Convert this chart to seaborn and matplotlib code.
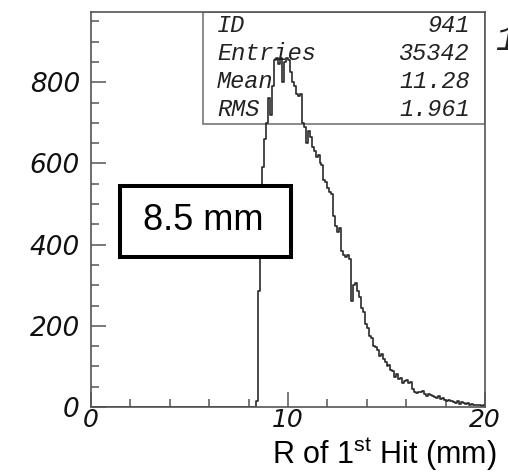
import numpy as np
import pandas as pd
import matplotlib
matplotlib.use("Agg")
import matplotlib.pyplot as plt
from matplotlib.patches import Rectangle
from matplotlib.ticker import MultipleLocator
import seaborn as sns

# ---- data ----
bin_width = 0.1
bin_start = 8.4
counts = [
    15, 285, 540, 590, 660, 700, 760, 720, 790, 855,
    860, 845, 860, 800, 850, 860, 855, 825, 800, 790,
    770, 765, 770, 700, 690, 650, 680, 665, 640, 630,
    615, 620, 600, 595, 560, 555, 540, 530, 525, 470,
    445, 430, 440, 385, 375, 370, 375, 365, 260, 300,
    305, 285, 270, 245, 235, 205, 195, 175, 170, 150,
    148, 140, 125, 130, 118, 110, 100, 104, 92, 88,
    75, 82, 68, 72, 60, 64, 66, 58, 62, 45,
    36, 34, 38, 36, 40, 32, 28, 33, 30, 26,
    24, 22, 27, 20, 22, 18, 16, 18, 14, 15,
    12, 10, 15, 8, 12, 10, 7, 9, 6, 8,
    5, 6, 4, 5, 3, 4,
]
stat_labels = ["ID", "Entries", "Mean", "RMS"]
stat_values = ["941", "35342", "11.28", "1.961"]
x_ticks = [0, 10, 20]
y_ticks = [0, 200, 400, 600, 800]
x_label = r"R of 1$^{\mathrm{st}}$ Hit (mm)"
box_label = "8.5 mm"

centers = bin_start + bin_width * (np.arange(len(counts)) + 0.5)
df = pd.DataFrame({"r": centers, "n": counts})

# ---- figure ----
sns.set_style("white")
plt.rcParams["mathtext.fontset"] = "custom"
plt.rcParams["mathtext.rm"] = "Liberation Sans"
plt.rcParams["mathtext.it"] = "Liberation Sans:italic"

W, H = 508, 472
fig = plt.figure(figsize=(W / 100, H / 100), dpi=100)
L, R, T, B = 91, 485, 12, 407
ax = fig.add_axes([L / W, 1 - B / H, (R - L) / W, (B - T) / H])

sns.histplot(data=df, x="r", weights="n", binwidth=bin_width, binrange=(0, 20),
             element="step", fill=False, color="#2a2a2a", linewidth=1.2, ax=ax)

ax.set_xlim(0, 20)
ax.set_ylim(0, 973)
ax.set_xlabel("")
ax.set_ylabel("")
ax.set_xticks(x_ticks)
ax.set_yticks(y_ticks)
ax.xaxis.set_minor_locator(MultipleLocator(2))
ax.yaxis.set_minor_locator(MultipleLocator(50))
ax.tick_params(which="major", direction="in", length=11, width=1.1,
               color="#555555", pad=1, labelsize=18, top=False, right=False,
               bottom=True, left=True)
ax.tick_params(which="minor", direction="in", length=6, width=1.1,
               color="#555555", top=False, right=False, bottom=True, left=True)
ax.tick_params(axis="y", which="major", pad=8, labelsize=19)
for lab in ax.get_xticklabels() + ax.get_yticklabels():
    lab.set_fontstyle("italic")
    lab.set_family("DejaVu Sans")
    lab.set_color("#111111")
for sp in ax.spines.values():
    sp.set_visible(True)
    sp.set_color("#555555")
    sp.set_linewidth(1.2)

# stats box
ax.add_patch(Rectangle((0.284, 0.716), 0.716, 0.284, transform=ax.transAxes,
                       fill=False, edgecolor="#777777", linewidth=1.2, zorder=1))
row_y = [0.965, 0.894, 0.823, 0.752]
for lab, val, yy in zip(stat_labels, stat_values, row_y):
    ax.text(0.320, yy, lab, transform=ax.transAxes, ha="left", va="center",
            family="Liberation Mono", style="italic", fontsize=17, color="#222222")
    ax.text(0.962, yy, val, transform=ax.transAxes, ha="right", va="center",
            family="Liberation Mono", style="italic", fontsize=17, color="#222222")

# 8.5 mm annotation box (figure pixel coordinates)
fig.patches.append(Rectangle((120 / W, 1 - 257 / H), 171 / W, 71 / H,
                             transform=fig.transFigure, fill=True,
                             facecolor="white", edgecolor="black",
                             linewidth=2.9, zorder=5))
fig.text(203 / W, 1 - 220 / H, box_label, ha="center", va="center",
         family="Liberation Sans", fontsize=26, color="black", zorder=6)

# x axis title
fig.text(497 / W, 1 - 464 / H, x_label, ha="right", va="baseline",
         family="Liberation Sans", fontsize=22, color="black")

# clipped title fragment at the right edge (cut off in the reference too)
fig.text(495 / W, 1 - 40 / H, "1", ha="left", va="center",
         family="Liberation Mono", style="italic", fontsize=26, color="#222222")

fig.savefig("out.png", dpi=100)
